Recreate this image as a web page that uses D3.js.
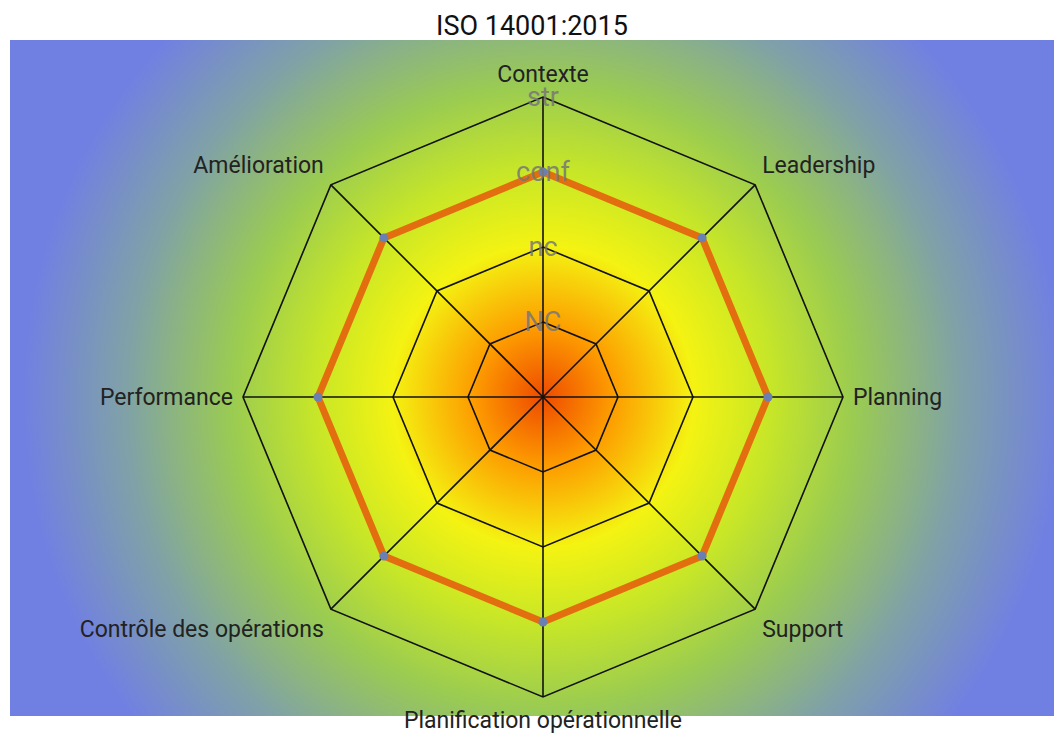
<!DOCTYPE html>
<html>
<head>
<meta charset="utf-8">
<script src="https://cdn.jsdelivr.net/npm/d3@7"></script>
<style>
  body { margin: 0; background: #fff; font-family: Roboto, sans-serif; }
</style>
</head>
<body>
<svg width="1064" height="744"></svg>
<script>
var axes = ["Contexte", "Leadership", "Planning", "Support", "Planification opérationnelle",
            "Contrôle des opérations", "Performance", "Amélioration"];
var values = [3, 3, 3, 3, 3, 3, 3, 3];
var levels = ["NC", "nc", "conf", "str"];

var svg = d3.select("svg"),
    width = +svg.attr("width"),
    height = +svg.attr("height");

var cx = 543, cy = 397, radius = 300;

var r = d3.scaleLinear().domain([0, levels.length]).range([0, radius]);
var angle = d3.scaleLinear().domain([0, axes.length]).range([0, 2 * Math.PI]);

function px(i, v) { return cx + r(v) * Math.sin(angle(i)); }
function py(i, v) { return cy - r(v) * Math.cos(angle(i)); }

// background gradient
var defs = svg.append("defs");
var grad = defs.append("radialGradient")
    .attr("id", "bg")
    .attr("gradientUnits", "userSpaceOnUse")
    .attr("cx", cx).attr("cy", cy).attr("r", 520);
[[0, "#ee4a00"], [0.13, "#fd9a00"], [0.29, "#f4f312"], [0.44, "#c6e628"],
 [0.6, "#9acb52"], [0.8, "#80a2a6"], [1, "#7080e2"]].forEach(function(s) {
  grad.append("stop").attr("offset", s[0]).attr("stop-color", s[1]);
});

svg.append("rect")
    .attr("x", 10).attr("y", 40)
    .attr("width", 1044).attr("height", 676)
    .attr("fill", "url(#bg)");

svg.append("text")
    .attr("x", width / 2).attr("y", 35)
    .attr("text-anchor", "middle")
    .style("font-size", "27px")
    .style("fill", "#111")
    .text("ISO 14001:2015");

var g = svg.append("g");

// grid polygons
levels.forEach(function(l, k) {
  var pts = axes.map(function(a, i) { return [px(i, k + 1), py(i, k + 1)]; });
  g.append("polygon")
      .attr("points", pts.map(function(p) { return p.join(","); }).join(" "))
      .attr("fill", "none")
      .attr("stroke", "#111")
      .attr("stroke-width", 1.6);
});

// axes
g.selectAll(".axis")
    .data(axes)
    .enter().append("line")
    .attr("class", "axis")
    .attr("x1", cx).attr("y1", cy)
    .attr("x2", function(d, i) { return px(i, levels.length); })
    .attr("y2", function(d, i) { return py(i, levels.length); })
    .attr("stroke", "#111")
    .attr("stroke-width", 1.6);

// axis labels
g.selectAll(".label")
    .data(axes)
    .enter().append("text")
    .attr("class", "label")
    .attr("x", function(d, i) {
      var s = Math.sin(angle(i));
      return cx + 310 * s;
    })
    .attr("y", function(d, i) {
      var c = Math.cos(angle(i));
      var off = Math.abs(c) < 1e-6 ? 0 : (c > 0 ? -13 : 13);
      return cy - 310 * c + off;
    })
    .attr("dy", "0.35em")
    .attr("text-anchor", function(d, i) {
      var s = Math.sin(angle(i));
      return Math.abs(s) < 1e-6 ? "middle" : (s > 0 ? "start" : "end");
    })
    .style("font-size", "23px")
    .style("fill", "#222")
    .text(function(d) { return d; });

// data line
var line = d3.line().curve(d3.curveLinearClosed);
g.append("path")
    .datum(values.map(function(v, i) { return [px(i, v), py(i, v)]; }))
    .attr("d", line)
    .attr("fill", "none")
    .attr("stroke", "#e36e10")
    .attr("stroke-width", 7)
    .attr("stroke-linejoin", "miter");

g.selectAll(".dot")
    .data(values)
    .enter().append("circle")
    .attr("class", "dot")
    .attr("cx", function(d, i) { return px(i, d); })
    .attr("cy", function(d, i) { return py(i, d); })
    .attr("r", 4.5)
    .attr("fill", "#6b80b2");

// level labels
g.selectAll(".level")
    .data(levels)
    .enter().append("text")
    .attr("class", "level")
    .attr("x", cx)
    .attr("y", function(d, i) { return cy - r(i + 1); })
    .attr("dy", "0.35em")
    .attr("text-anchor", "middle")
    .style("font-size", "27px")
    .style("fill", "#777")
    .style("fill-opacity", 0.85)
    .text(function(d) { return d; });
</script>
</body>
</html>
